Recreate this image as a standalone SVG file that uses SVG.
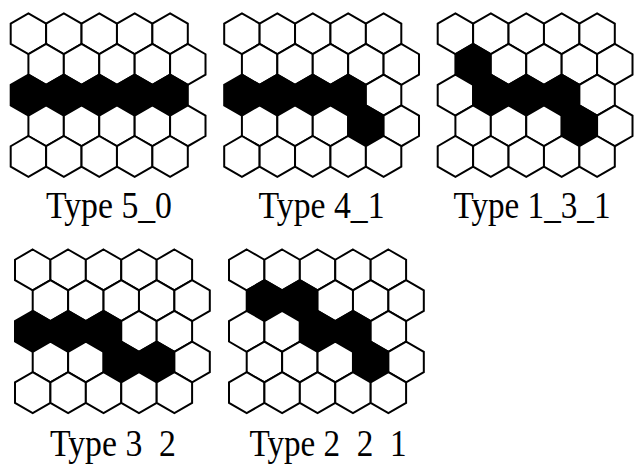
<svg xmlns="http://www.w3.org/2000/svg" xmlns:xlink="http://www.w3.org/1999/xlink" width="635" height="466" viewBox="0 0 635 466">
<style>
.h{fill:#fff;stroke:#000;stroke-width:2;stroke-linejoin:miter}
.b{fill:#000;stroke:#000;stroke-width:2}
.lbl{font-family:"Liberation Serif","Times New Roman",serif;font-size:37px;fill:#000;text-anchor:middle}
</style>
<defs>
<polygon id="hex" points="0,-20.45 17.71,-10.22 17.71,10.22 0,20.45 -17.71,10.22 -17.71,-10.22"/>
</defs>
<rect width="635" height="466" fill="#fff"/>

<g id="grid-5_0" transform="translate(10.7,13.3)">
<use href="#hex" class="h" x="17.71" y="20.45"/><use href="#hex" class="h" x="53.13" y="20.45"/><use href="#hex" class="h" x="88.55" y="20.45"/><use href="#hex" class="h" x="123.97" y="20.45"/><use href="#hex" class="h" x="159.39" y="20.45"/>
<use href="#hex" class="h" x="35.42" y="51.13"/><use href="#hex" class="h" x="70.84" y="51.13"/><use href="#hex" class="h" x="106.26" y="51.13"/><use href="#hex" class="h" x="141.68" y="51.13"/><use href="#hex" class="h" x="177.1" y="51.13"/>
<use href="#hex" class="b" x="17.71" y="81.8"/><use href="#hex" class="b" x="53.13" y="81.8"/><use href="#hex" class="b" x="88.55" y="81.8"/><use href="#hex" class="b" x="123.97" y="81.8"/><use href="#hex" class="b" x="159.39" y="81.8"/>
<use href="#hex" class="h" x="35.42" y="112.48"/><use href="#hex" class="h" x="70.84" y="112.48"/><use href="#hex" class="h" x="106.26" y="112.48"/><use href="#hex" class="h" x="141.68" y="112.48"/><use href="#hex" class="h" x="177.1" y="112.48"/>
<use href="#hex" class="h" x="17.71" y="143.15"/><use href="#hex" class="h" x="53.13" y="143.15"/><use href="#hex" class="h" x="88.55" y="143.15"/><use href="#hex" class="h" x="123.97" y="143.15"/><use href="#hex" class="h" x="159.39" y="143.15"/>
</g>

<g id="grid-4_1" transform="translate(224.2,13.3)">
<use href="#hex" class="h" x="17.71" y="20.45"/><use href="#hex" class="h" x="53.13" y="20.45"/><use href="#hex" class="h" x="88.55" y="20.45"/><use href="#hex" class="h" x="123.97" y="20.45"/><use href="#hex" class="h" x="159.39" y="20.45"/>
<use href="#hex" class="h" x="35.42" y="51.13"/><use href="#hex" class="h" x="70.84" y="51.13"/><use href="#hex" class="h" x="106.26" y="51.13"/><use href="#hex" class="h" x="141.68" y="51.13"/><use href="#hex" class="h" x="177.1" y="51.13"/>
<use href="#hex" class="b" x="17.71" y="81.8"/><use href="#hex" class="b" x="53.13" y="81.8"/><use href="#hex" class="b" x="88.55" y="81.8"/><use href="#hex" class="b" x="123.97" y="81.8"/><use href="#hex" class="h" x="159.39" y="81.8"/>
<use href="#hex" class="h" x="35.42" y="112.48"/><use href="#hex" class="h" x="70.84" y="112.48"/><use href="#hex" class="h" x="106.26" y="112.48"/><use href="#hex" class="b" x="141.68" y="112.48"/><use href="#hex" class="h" x="177.1" y="112.48"/>
<use href="#hex" class="h" x="17.71" y="143.15"/><use href="#hex" class="h" x="53.13" y="143.15"/><use href="#hex" class="h" x="88.55" y="143.15"/><use href="#hex" class="h" x="123.97" y="143.15"/><use href="#hex" class="h" x="159.39" y="143.15"/>
</g>

<g id="grid-1_3_1" transform="translate(437.7,13.3)">
<use href="#hex" class="h" x="17.71" y="20.45"/><use href="#hex" class="h" x="53.13" y="20.45"/><use href="#hex" class="h" x="88.55" y="20.45"/><use href="#hex" class="h" x="123.97" y="20.45"/><use href="#hex" class="h" x="159.39" y="20.45"/>
<use href="#hex" class="b" x="35.42" y="51.13"/><use href="#hex" class="h" x="70.84" y="51.13"/><use href="#hex" class="h" x="106.26" y="51.13"/><use href="#hex" class="h" x="141.68" y="51.13"/><use href="#hex" class="h" x="177.1" y="51.13"/>
<use href="#hex" class="h" x="17.71" y="81.8"/><use href="#hex" class="b" x="53.13" y="81.8"/><use href="#hex" class="b" x="88.55" y="81.8"/><use href="#hex" class="b" x="123.97" y="81.8"/><use href="#hex" class="h" x="159.39" y="81.8"/>
<use href="#hex" class="h" x="35.42" y="112.48"/><use href="#hex" class="h" x="70.84" y="112.48"/><use href="#hex" class="h" x="106.26" y="112.48"/><use href="#hex" class="b" x="141.68" y="112.48"/><use href="#hex" class="h" x="177.1" y="112.48"/>
<use href="#hex" class="h" x="17.71" y="143.15"/><use href="#hex" class="h" x="53.13" y="143.15"/><use href="#hex" class="h" x="88.55" y="143.15"/><use href="#hex" class="h" x="123.97" y="143.15"/><use href="#hex" class="h" x="159.39" y="143.15"/>
</g>

<g id="grid-3_2" transform="translate(15,249.5)">
<use href="#hex" class="h" x="17.71" y="20.45"/><use href="#hex" class="h" x="53.13" y="20.45"/><use href="#hex" class="h" x="88.55" y="20.45"/><use href="#hex" class="h" x="123.97" y="20.45"/><use href="#hex" class="h" x="159.39" y="20.45"/>
<use href="#hex" class="h" x="35.42" y="51.13"/><use href="#hex" class="h" x="70.84" y="51.13"/><use href="#hex" class="h" x="106.26" y="51.13"/><use href="#hex" class="h" x="141.68" y="51.13"/><use href="#hex" class="h" x="177.1" y="51.13"/>
<use href="#hex" class="b" x="17.71" y="81.8"/><use href="#hex" class="b" x="53.13" y="81.8"/><use href="#hex" class="b" x="88.55" y="81.8"/><use href="#hex" class="h" x="123.97" y="81.8"/><use href="#hex" class="h" x="159.39" y="81.8"/>
<use href="#hex" class="h" x="35.42" y="112.48"/><use href="#hex" class="h" x="70.84" y="112.48"/><use href="#hex" class="b" x="106.26" y="112.48"/><use href="#hex" class="b" x="141.68" y="112.48"/><use href="#hex" class="h" x="177.1" y="112.48"/>
<use href="#hex" class="h" x="17.71" y="143.15"/><use href="#hex" class="h" x="53.13" y="143.15"/><use href="#hex" class="h" x="88.55" y="143.15"/><use href="#hex" class="h" x="123.97" y="143.15"/><use href="#hex" class="h" x="159.39" y="143.15"/>
</g>

<g id="grid-2_2_1" transform="translate(229,249.5)">
<use href="#hex" class="h" x="17.71" y="20.45"/><use href="#hex" class="h" x="53.13" y="20.45"/><use href="#hex" class="h" x="88.55" y="20.45"/><use href="#hex" class="h" x="123.97" y="20.45"/><use href="#hex" class="h" x="159.39" y="20.45"/>
<use href="#hex" class="b" x="35.42" y="51.13"/><use href="#hex" class="b" x="70.84" y="51.13"/><use href="#hex" class="h" x="106.26" y="51.13"/><use href="#hex" class="h" x="141.68" y="51.13"/><use href="#hex" class="h" x="177.1" y="51.13"/>
<use href="#hex" class="h" x="17.71" y="81.8"/><use href="#hex" class="h" x="53.13" y="81.8"/><use href="#hex" class="b" x="88.55" y="81.8"/><use href="#hex" class="b" x="123.97" y="81.8"/><use href="#hex" class="h" x="159.39" y="81.8"/>
<use href="#hex" class="h" x="35.42" y="112.48"/><use href="#hex" class="h" x="70.84" y="112.48"/><use href="#hex" class="h" x="106.26" y="112.48"/><use href="#hex" class="b" x="141.68" y="112.48"/><use href="#hex" class="h" x="177.1" y="112.48"/>
<use href="#hex" class="h" x="17.71" y="143.15"/><use href="#hex" class="h" x="53.13" y="143.15"/><use href="#hex" class="h" x="88.55" y="143.15"/><use href="#hex" class="h" x="123.97" y="143.15"/><use href="#hex" class="h" x="159.39" y="143.15"/>
</g>

<g id="labels">
<text class="lbl" x="109" y="218" textLength="126" lengthAdjust="spacingAndGlyphs">Type 5_0</text>
<text class="lbl" x="321.6" y="218" textLength="126" lengthAdjust="spacingAndGlyphs">Type 4_1</text>
<text class="lbl" x="532" y="218" textLength="157" lengthAdjust="spacingAndGlyphs">Type 1_3_1</text>
<text class="lbl" x="113" y="456" textLength="126" lengthAdjust="spacingAndGlyphs" xml:space="preserve">Type 3  2</text>
<text class="lbl" x="328" y="456" textLength="157" lengthAdjust="spacingAndGlyphs" xml:space="preserve">Type 2  2  1</text>
</g>
</svg>
